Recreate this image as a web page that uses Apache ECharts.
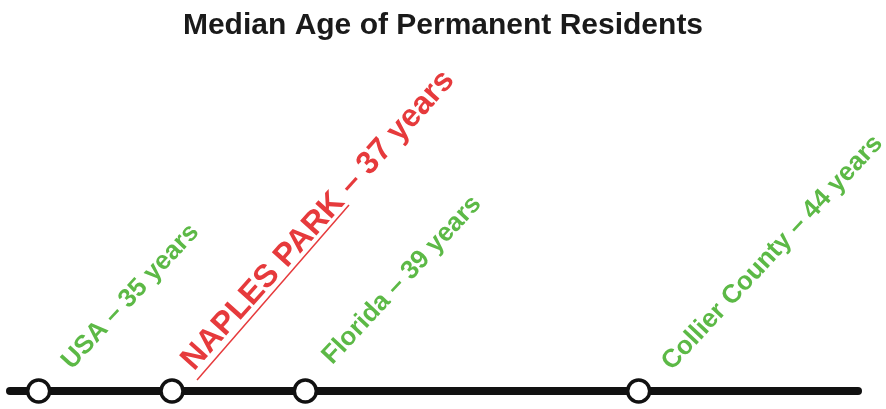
<!DOCTYPE html>
<html>
<head>
<meta charset="utf-8">
<script src="https://cdn.jsdelivr.net/npm/echarts@6/dist/echarts.min.js"></script>
<style>
  html, body { margin: 0; padding: 0; background: #fff; }
  #main { width: 886px; height: 409px; }
</style>
</head>
<body>
<div id="main"></div>
<script>
// data
var places = ['USA', 'NAPLES PARK', 'Florida', 'Collier County'];
var ages = [35, 37, 39, 44];

var GREEN = '#5cb946';
var RED = '#e63a3c';
var FONT = '"Liberation Sans", Arial, sans-serif';

// where each rotated label starts, relative to the circle's box
var labelPos = [[50, -4], [40, -2], [44, -9], [50, -3]];

var chart = echarts.init(document.getElementById('main'));

var seriesData = ages.map(function (a, i) {
  var isHome = places[i] === 'NAPLES PARK';
  return {
    value: [a, 0],
    name: places[i],
    label: {
      position: labelPos[i],
      color: isHome ? RED : GREEN,
      fontSize: isHome ? 32 : 26,
      rotate: isHome ? 48 : 47
    }
  };
});

chart.setOption({
  animation: false,
  title: {
    text: 'Median Age of Permanent Residents',
    left: 'center',
    top: 6,
    textStyle: {
      fontFamily: FONT,
      fontSize: 30,
      fontWeight: 'bold',
      color: '#1a1a1a'
    }
  },
  grid: { left: 10, right: 28, top: 60, bottom: 18 },
  xAxis: {
    type: 'value',
    min: 34.57,
    max: 47.29,
    axisLine: { show: true, lineStyle: { color: '#111', width: 8 } },
    axisTick: { show: false },
    axisLabel: { show: false },
    splitLine: { show: false }
  },
  yAxis: {
    type: 'value',
    min: 0,
    max: 1,
    show: false
  },
  series: [{
    type: 'scatter',
    clip: false,
    symbol: 'circle',
    symbolSize: 22,
    itemStyle: { color: '#fff', borderColor: '#111', borderWidth: 3.5, opacity: 1 },
    label: {
      show: true,
      align: 'left',
      verticalAlign: 'bottom',
      fontFamily: FONT,
      fontWeight: 'bold',
      formatter: function (p) {
        return p.name + ' \u2013 ' + p.value[0] + ' years';
      }
    },
    data: seriesData
  }]
});

// underline under "NAPLES PARK"
var home = places.indexOf('NAPLES PARK');
var pt = chart.convertToPixel({ gridIndex: 0 }, [ages[home], 0]);
chart.setOption({
  graphic: [{
    type: 'line',
    shape: { x1: pt[0] + 25, y1: pt[1] - 11, x2: pt[0] + 177, y2: pt[1] - 186 },
    style: { stroke: RED, lineWidth: 1.5 }
  }]
});
</script>
</body>
</html>
